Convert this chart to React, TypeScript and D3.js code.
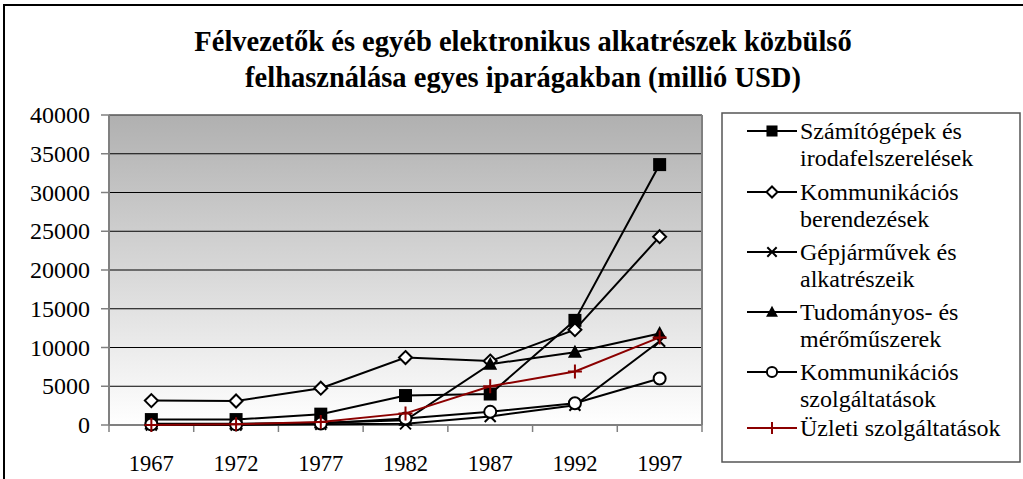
import React from "react";
import * as d3 from "d3";

const years = ["1967", "1972", "1977", "1982", "1987", "1992", "1997"];
const szamitogepek = [700, 700, 1400, 3800, 4000, 13500, 33600];
const kommBerend = [3150, 3100, 4750, 8700, 8250, 12300, 24300];
const gepjarmuvek = [0, 0, 100, 150, 1100, 2550, 10800];
const tudomanyos = [150, 150, 300, 600, 7850, 9400, 11800];
const kommSzolg = [80, 80, 200, 850, 1700, 2800, 6000];
const uzleti = [0, 100, 400, 1500, 5000, 6900, 11300];
const yTicks = [0, 5000, 10000, 15000, 20000, 25000, 30000, 35000, 40000];
const titleLines = [
  "Félvezetők és egyéb elektronikus alkatrészek közbülső",
  "felhasználása egyes iparágakban (millió USD)",
];

type Series = { name: string[]; values: number[]; marker: string; color: string };
const series: Series[] = [
  { name: ["Számítógépek és", "irodafelszerelések"], values: szamitogepek, marker: "square", color: "#000" },
  { name: ["Kommunikációs", "berendezések"], values: kommBerend, marker: "diamond", color: "#000" },
  { name: ["Gépjárművek és", "alkatrészeik"], values: gepjarmuvek, marker: "x", color: "#000" },
  { name: ["Tudományos- és", "mérőműszerek"], values: tudomanyos, marker: "triangle", color: "#000" },
  { name: ["Kommunikációs", "szolgáltatások"], values: kommSzolg, marker: "circle", color: "#000" },
  { name: ["Üzleti szolgáltatások"], values: uzleti, marker: "plus", color: "#8b0000" },
];

function Marker({ type, x, y, color, k = 1 }: { type: string; x: number; y: number; color: string; k?: number }) {
  const s = 6.5 * k;
  switch (type) {
    case "square":
      return <rect x={x - s} y={y - s} width={2 * s} height={2 * s} fill="#000" />;
    case "diamond":
      return (
        <path d={`M${x},${y - s} L${x + s},${y} L${x},${y + s} L${x - s},${y} Z`} fill="#fff" stroke="#000" strokeWidth={2} />
      );
    case "x":
      return (
        <path d={`M${x - 5.5 * k},${y - 5.5 * k} L${x + 5.5 * k},${y + 5.5 * k} M${x - 5.5 * k},${y + 5.5 * k} L${x + 5.5 * k},${y - 5.5 * k}`} stroke="#000" strokeWidth={2} />
      );
    case "triangle":
      return <path d={`M${x},${y - 7.5 * k} L${x + 7 * k},${y + 5.5 * k} L${x - 7 * k},${y + 5.5 * k} Z`} fill="#000" />;
    case "circle":
      return <circle cx={x} cy={y} r={6 * k} fill="#fff" stroke="#000" strokeWidth={2} />;
    case "plus":
      return (
        <path d={`M${x - 7 * k},${y} L${x + 7 * k},${y} M${x},${y - 7 * k} L${x},${y + 7 * k}`} stroke={color} strokeWidth={2} />
      );
  }
  return null;
}

export default function App() {
  const W = 1023, H = 479;
  const left = 109, right = 702, top = 115, bottom = 425;
  const x = d3.scaleBand<string>().domain(years).range([left, right]).padding(0);
  const y = d3.scaleLinear().domain([0, 40000]).range([bottom, top]);
  const cx = (d: string) => (x(d) as number) + x.bandwidth() / 2;
  const line = d3.line<number>().x((_, i) => cx(years[i])).y((v) => y(v));
  const font = "Liberation Serif";
  const legendX = 722, legendY = 113;
  const rowStarts = [131, 192, 252, 312, 372, 428];

  return (
    <svg width={W} height={H} style={{ position: "absolute", left: 0, top: 0, fontFamily: font }}>
      <defs>
        <linearGradient id="bg" x1="0" y1="0" x2="0" y2="1">
          <stop offset="0" stopColor="#b0b0b0" />
          <stop offset="1" stopColor="#ffffff" />
        </linearGradient>
      </defs>
      <rect x={0} y={0} width={W} height={H} fill="#fff" />
      <rect x={4} y={5} width={W + 20} height={H + 20} fill="none" stroke="#000" strokeWidth={2} />
      {titleLines.map((t, i) => (
        <text key={i} x={523} y={51 + i * 36} textAnchor="middle" fontWeight="bold" fontSize={28.5} style={{ fontFamily: font }}>
          {t}
        </text>
      ))}
      <rect x={left} y={top} width={right - left} height={bottom - top} fill="url(#bg)" />
      {yTicks.filter((t) => t > 0).map((t) => (
        <line key={t} x1={left} x2={right} y1={y(t)} y2={y(t)} stroke="#000" strokeWidth={1} />
      ))}
      <line x1={right} x2={right} y1={top} y2={bottom} stroke="#808080" strokeWidth={2} />
      <line x1={left} x2={right} y1={top} y2={top} stroke="#808080" strokeWidth={1} />
      <line x1={left} x2={left} y1={top} y2={bottom} stroke="#808080" strokeWidth={2} />
      <line x1={left} x2={right} y1={bottom} y2={bottom} stroke="#808080" strokeWidth={2} />
      {yTicks.map((t) => (
        <g key={t}>
          <line x1={left - 8} x2={left} y1={y(t)} y2={y(t)} stroke="#808080" strokeWidth={1.5} />
          <text x={90} y={y(t) + 8} textAnchor="end" fontSize={24} style={{ fontFamily: font }}>
            {t}
          </text>
        </g>
      ))}
      {years.map((yr) => (
        <g key={yr}>
          <line x1={x(yr) as number} x2={x(yr) as number} y1={bottom} y2={bottom + 7} stroke="#808080" strokeWidth={1.5} />
          <text x={cx(yr)} y={471} textAnchor="middle" fontSize={22.5} style={{ fontFamily: font }}>
            {yr}
          </text>
        </g>
      ))}
      <line x1={right} x2={right} y1={bottom} y2={bottom + 7} stroke="#808080" strokeWidth={1.5} />
      {series.map((s, si) => (
        <g key={si}>
          <path d={line(s.values) as string} fill="none" stroke={s.color} strokeWidth={2} />
          {s.values.map((v, i) => (
            <Marker key={i} type={s.marker} x={cx(years[i])} y={y(v)} color={s.color} />
          ))}
        </g>
      ))}
      <rect x={legendX} y={legendY} width={298} height={349} fill="#fff" stroke="#555" strokeWidth={1.5} />
      {series.map((s, si) => {
        const ry = rowStarts[si];
        return (
          <g key={si}>
            <line x1={747} x2={797} y1={ry} y2={ry} stroke={s.color} strokeWidth={2} />
            <Marker type={s.marker} x={772} y={ry} color={s.color} k={0.85} />
            {s.name.map((n, j) => (
              <text key={j} x={800} y={ry + 8 + j * 27} fontSize={24} style={{ fontFamily: font }}>
                {n}
              </text>
            ))}
          </g>
        );
      })}
    </svg>
  );
}
